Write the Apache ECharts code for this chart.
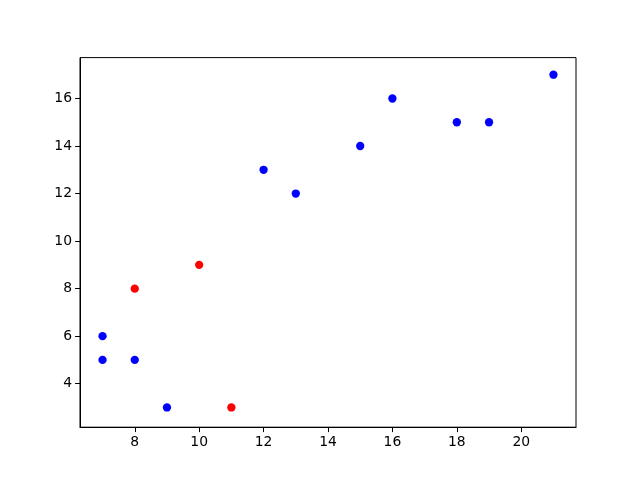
<!DOCTYPE html>
<html><head><meta charset="utf-8">
<script src="https://cdn.jsdelivr.net/npm/echarts@6/dist/echarts.min.js"></script>
<style>html,body{margin:0;padding:0;background:#fff}#c{width:640px;height:480px}</style>
</head><body><div id="c"></div>
<script>
var blueX = [7, 7, 8, 9, 12, 13, 15, 16, 18, 19, 21];
var blueY = [6, 5, 5, 3, 13, 12, 14, 16, 15, 15, 17];
var redX = [8, 10, 11];
var redY = [8, 9, 3];
var xTicks = [8, 10, 12, 14, 16, 18, 20];
var yTicks = [4, 6, 8, 10, 12, 14, 16];
var xRange = [6.3, 21.7];
var yRange = [2.17, 17.72];

function pairs(xs, ys){ return xs.map(function(x,i){ return [x, ys[i]]; }); }

var font = {color:'#000', fontSize:13.9, fontFamily:'DejaVu Sans'};
function axis(range, ticks, margin){
  return {
    type:'value', min:range[0], max:range[1], scale:true,
    axisLine:{show:true, onZero:false, lineStyle:{color:'#000', width:1}},
    axisTick:{show:true, length:4.9, inside:false, lineStyle:{color:'#000', width:1}, customValues:ticks},
    axisLabel:Object.assign({margin:margin, customValues:ticks}, font),
    splitLine:{show:false}
  };
}
var chart = echarts.init(document.getElementById('c'), null, {renderer:'canvas'});
chart.setOption({
  animation:false,
  backgroundColor:'#fff',
  grid:{left:80, right:64, top:57.6, bottom:52.8, show:true, borderColor:'#000', borderWidth:1, backgroundColor:'transparent'},
  xAxis: axis(xRange, xTicks, 8),
  yAxis: axis(yRange, yTicks, 8),
  series:[
    {type:'scatter', data:pairs(blueX, blueY), symbolSize:8.3, itemStyle:{color:'#0000ff', opacity:1}},
    {type:'scatter', data:pairs(redX, redY), symbolSize:8.3, itemStyle:{color:'#ff0000', opacity:1}}
  ]
});
</script></body></html>
